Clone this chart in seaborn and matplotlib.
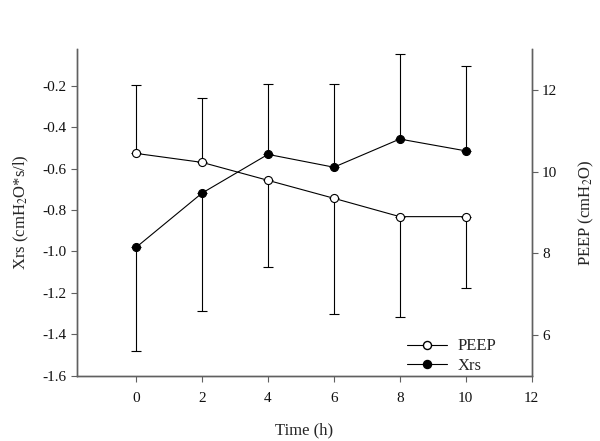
import numpy as np
import pandas as pd
import seaborn as sns
import matplotlib.pyplot as plt
from matplotlib.lines import Line2D

# data
time_h = [0, 2, 4, 6, 8, 10]
peep = [10.45, 10.23, 9.79, 9.35, 8.90, 8.90]
peep_err_lo = [0, 0, 2.12, 2.84, 2.46, 1.76]
peep_err_hi = [1.67, 1.57, 0, 0, 0, 0]
xrs = [-0.98, -0.718, -0.531, -0.593, -0.457, -0.514]
xrs_err_lo = [0.50, 0.57, 0, 0, 0, 0]
xrs_err_hi = [0, 0, 0.34, 0.40, 0.41, 0.41]

sns.set_style("ticks")
plt.rcParams['font.family'] = ['Liberation Serif', 'DejaVu Serif']
plt.rcParams['mathtext.fontset'] = 'stix'

df = pd.DataFrame({"time": time_h, "peep": peep, "xrs": xrs})

fig = plt.figure(figsize=(6, 4.41), dpi=100)
ax = fig.add_axes([0.128, 0.148, 0.758, 0.740])
ax2 = ax.twinx()

spine_c = '#606060'
lw = 0.8
ms = 5.8

# Xrs on left axis
ax.errorbar(time_h, xrs, yerr=[xrs_err_lo, xrs_err_hi], fmt='none',
            ecolor='black', elinewidth=lw, capsize=3.8, capthick=lw, zorder=1)
sns.lineplot(data=df, x="time", y="xrs", ax=ax, color='black', linewidth=lw,
             marker='o', markersize=ms, markerfacecolor='black',
             markeredgecolor='black', zorder=3)

# PEEP on right axis
ax2.errorbar(time_h, peep, yerr=[peep_err_lo, peep_err_hi], fmt='none',
             ecolor='black', elinewidth=lw, capsize=3.8, capthick=lw, zorder=1)
sns.lineplot(data=df, x="time", y="peep", ax=ax2, color='black', linewidth=lw,
             marker='o', markersize=ms, markerfacecolor='white',
             markeredgecolor='black', markeredgewidth=0.8, zorder=3)

ax.set_xlim(-1.8, 12)
ax.set_xticks(range(0, 13, 2))
ax.set_ylim(-1.6, -0.024)
ax.set_yticks(np.arange(-1.6, -0.19, 0.2))
ax.set_yticklabels([f"{v:.1f}" for v in np.arange(-1.6, -0.19, 0.2)])
ax2.set_ylim(5, 13)
ax2.set_yticks([6, 8, 10, 12])

ax.set_xlabel("Time (h)", fontsize=12, labelpad=12)
ax.set_ylabel(r"Xrs (cmH$_2$O*s/l)", fontsize=12, labelpad=8)
ax2.set_ylabel(r"PEEP (cmH$_2$O)", fontsize=12, labelpad=14)

for a in (ax, ax2):
    a.spines['top'].set_visible(False)
    for s in ('left', 'right', 'bottom'):
        a.spines[s].set_color(spine_c)
        a.spines[s].set_linewidth(1.0)
    a.tick_params(colors=spine_c, labelcolor='#111111', labelsize=11,
                  length=4, width=0.8, direction='out')
ax.tick_params(axis='x', pad=8)

handles = [
    Line2D([], [], color='black', lw=lw, marker='o', markersize=ms,
           markerfacecolor='white', markeredgecolor='black'),
    Line2D([], [], color='black', lw=lw, marker='o', markersize=ms,
           markerfacecolor='black', markeredgecolor='black'),
]
ax2.legend(handles, ["PEEP", "Xrs"], loc='lower right', frameon=False,
           fontsize=12, bbox_to_anchor=(0.955, -0.04), handlelength=2.4,
           handletextpad=0.6, labelspacing=0.2)

fig.savefig("out.png", dpi=100)
